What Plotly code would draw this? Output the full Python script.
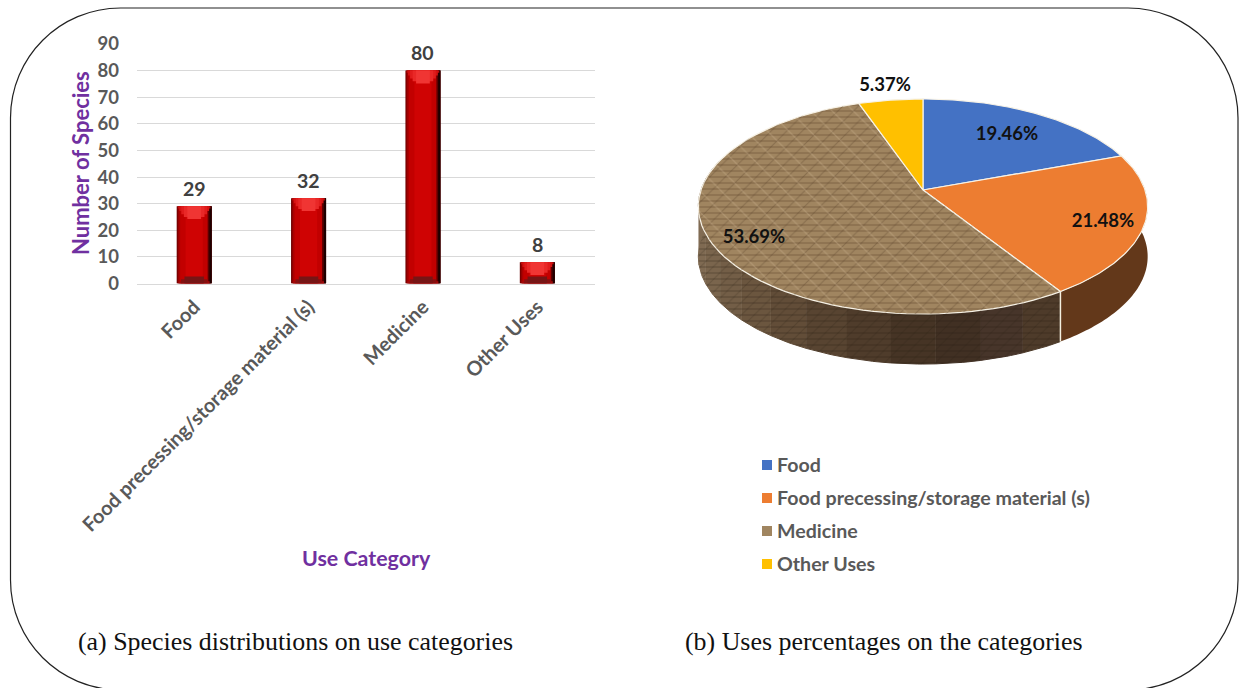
import math
import plotly.graph_objects as go

categories = ["Food", "Food precessing/storage material (s)", "Medicine", "Other Uses"]
species_counts = [29, 32, 80, 8]
use_percentages = [19.46, 21.48, 53.69, 5.37]
slice_colors = ["#4472C4", "#ED7D31", "#A08560", "#FFC000"]
side_colors = ["#4472C4", "#63381A", "#6B5640", "#FFC000"]
y_ticks = [0, 10, 20, 30, 40, 50, 60, 70, 80, 90]
pct_labels = [(1007, 135), (1103, 222), (754, 238), (885, 86)]
FONT = "Lato"
W, H = 1239, 688

fig = go.Figure()

# ---------- bars: layered for a bevelled horizontal gradient ----------
bar_layers = [(0.306, "#6a0000"), (0.292, "#8e0000"), (0.272, "#ab0000"), (0.245, "#c20000"), (0.15, "#cf0303")]
for width, colour in bar_layers:
    fig.add_trace(go.Bar(x=categories, y=species_counts, width=width, marker=dict(color=colour, line_width=0),
                         showlegend=False, hoverinfo="skip", xaxis="x", yaxis="y"))
# dark right-hand edge of each bar
for width, offset, colour in [(0.035, 0.118, "#5c0000"), (0.02, 0.133, "#1e0000")]:
    fig.add_trace(go.Bar(x=categories, y=species_counts, width=width, offset=offset,
                         marker=dict(color=colour, line_width=0), showlegend=False, hoverinfo="skip",
                         xaxis="x", yaxis="y"))
for width, colour, depth in [(0.285, "#c00c0c", 0.8), (0.26, "#d41212", 1.8), (0.225, "#e01c1c", 3.0),
                             (0.18, "#e92827", 4.0), (0.12, "#f03533", 4.8)]:
    fig.add_trace(go.Bar(x=categories, y=[depth] * 4, base=[v - depth for v in species_counts], width=width,
                         marker=dict(color=colour, line_width=0), showlegend=False, hoverinfo="skip",
                         xaxis="x", yaxis="y"))
for width, colour, depth in [(0.27, "#a00a0a", 0.8), (0.23, "#861010", 1.6), (0.17, "#761515", 2.6)]:
    fig.add_trace(go.Bar(x=categories, y=[depth] * 4, base=[0] * 4, width=width,
                         marker=dict(color=colour, line_width=0), showlegend=False, hoverinfo="skip",
                         xaxis="x", yaxis="y"))

# ---------- perspective pie in a pixel-scaled frame ----------
CX, CY, R, A, B, DEPTH = 923, 190, 222, 105, 0.1535, 50


def rim(theta, drop=0):
    u, v = math.sin(theta), math.cos(theta)
    w = 1 + B * v
    return CX + R * u / w, CY - A * v / w + drop


def arc(t0, t1, drop=0, n=80):
    pts = [rim(t0 + (t1 - t0) * i / n, drop) for i in range(n + 1)]
    return [p[0] for p in pts], [p[1] for p in pts]


edges = [0]
for p in use_percentages:
    edges.append(edges[-1] + p / sum(use_percentages) * 2 * math.pi)

# side walls
t0, t1 = edges[1], edges[2]
xa, ya = arc(t0, t1)
xb, yb = arc(t0, t1, DEPTH)
fig.add_trace(go.Scatter(x=xa + xb[::-1], y=ya + yb[::-1], fill="toself", mode="none", fillcolor=side_colors[1],
                         showlegend=False, hoverinfo="skip", xaxis="x2", yaxis="y2"))
wall_shades = ["#4e3b2a", "#47352a", "#413023", "#463425", "#4f3c2b", "#584431", "#624d38", "#6b563f",
               "#735e47", "#7a654d", "#7f6a52", "#816c54", "#816c54", "#816c54"]
t0, t1 = edges[2], edges[2] + (edges[3] - edges[2]) * 0.72
for i, shade in enumerate(wall_shades):
    s0 = t0 + (t1 - t0) * i / len(wall_shades)
    s1 = t0 + (t1 - t0) * (i + 1) / len(wall_shades)
    xa, ya = arc(s0, s1, 0, 10)
    xb, yb = arc(s0, s1, DEPTH, 10)
    fig.add_trace(go.Scatter(x=xa + xb[::-1], y=ya + yb[::-1], fill="toself", mode="lines",
                             line=dict(color=shade, width=1), fillcolor=shade,
                             showlegend=False, hoverinfo="skip", xaxis="x2", yaxis="y2"))
xa, ya = arc(t0, t1)
xb, yb = arc(t0, t1, DEPTH)
for shape, size, solidity, ink in [("-", 6, 0.22, "rgba(35,24,14,0.55)"), ("/", 9, 0.12, "rgba(35,24,14,0.4)")]:
    fig.add_trace(go.Scatter(x=xa + xb[::-1], y=ya + yb[::-1], fill="toself", mode="none",
                             fillcolor="rgba(0,0,0,0)",
                             fillpattern=dict(shape=shape, size=size, solidity=solidity, fgcolor=ink,
                                              bgcolor="rgba(0,0,0,0)"),
                             showlegend=False, hoverinfo="skip", xaxis="x2", yaxis="y2"))
bx, by = rim(edges[2])
fig.add_trace(go.Scatter(x=[bx, bx], y=[by, by + DEPTH], mode="lines", line=dict(color="#f5efdf", width=1.5),
                         showlegend=False, hoverinfo="skip", xaxis="x2", yaxis="y2"))

# top wedges
for i, cat in enumerate(categories):
    xs, ys = arc(edges[i], edges[i + 1])
    xs = [CX] + xs + [CX]
    ys = [CY] + ys + [CY]
    kw = {}
    if cat == "Medicine":
        kw["fillpattern"] = dict(shape="-", size=6, solidity=0.22, fgcolor="#6b5234", bgcolor=slice_colors[i])
    fig.add_trace(go.Scatter(x=xs, y=ys, fill="toself", mode="lines", line=dict(color="#f7f2e6", width=1.2),
                             fillcolor=slice_colors[i], name=cat, showlegend=False, hoverinfo="skip",
                             xaxis="x2", yaxis="y2", **kw))
    if cat == "Medicine":
        for shape, size, solidity, ink in [("/", 11, 0.1, "rgba(90,68,42,0.7)"),
                                           ("\\", 15, 0.08, "rgba(205,180,145,0.7)")]:
            fig.add_trace(go.Scatter(x=xs, y=ys, fill="toself", mode="none", fillcolor="rgba(0,0,0,0)",
                                     fillpattern=dict(shape=shape, size=size, solidity=solidity, fgcolor=ink,
                                                      bgcolor="rgba(0,0,0,0)"),
                                     showlegend=False, hoverinfo="skip", xaxis="x2", yaxis="y2"))
# percent labels
fig.add_trace(go.Scatter(x=[p[0] for p in pct_labels], y=[p[1] for p in pct_labels], mode="text",
                         text=[f"{v:.2f}%" for v in use_percentages],
                         textfont=dict(family=FONT, size=18.5, color="#111111", weight="bold"),
                         showlegend=False, hoverinfo="skip", xaxis="x2", yaxis="y2"))
# legend
legend_y = [465, 498, 531, 564]
fig.add_trace(go.Scatter(x=[767] * 4, y=legend_y, mode="markers", marker=dict(symbol="square", size=10, color=slice_colors),
                         showlegend=False, hoverinfo="skip", xaxis="x2", yaxis="y2"))
fig.add_trace(go.Scatter(x=[777] * 4, y=[v + 2 for v in legend_y], mode="text", text=categories,
                         textposition="middle right",
                         textfont=dict(family=FONT, size=19.6, color="#595959", weight="bold"),
                         showlegend=False, hoverinfo="skip", xaxis="x2", yaxis="y2"))

annotations = [
    dict(x=366, y=558, text="<b>Use Category</b>", font=dict(family=FONT, size=21.4, color="#7030A0")),
    dict(x=80, y=163, text="<b>Number of Species</b>", textangle=-90, font=dict(family=FONT, size=22, color="#7030A0")),
    dict(x=295, y=641, text="(a) Species distributions on use categories",
         font=dict(family="Liberation Serif", size=25.9, color="#111111")),
    dict(x=884, y=641, text="(b) Uses percentages on the categories",
         font=dict(family="Liberation Serif", size=25.9, color="#111111")),
]
for a in annotations:
    a.update(xref="x2", yref="y2", showarrow=False)
# value labels above the bars
for cat, v in zip(categories, species_counts):
    annotations.append(dict(x=cat, y=v, xref="x", yref="y", text=f"<b>{v}</b>", showarrow=False, yshift=18,
                            font=dict(family=FONT, size=19.5, color="#404040")))

# rounded frame, built from cubic corners
L, T, Rt, Bm, r = 10.5, 8, 1238, 690, 110
k = r * 0.4477
border = (f"M {L} {T + r} C {L} {T + k} {L + k} {T} {L + r} {T} L {Rt - r} {T} "
          f"C {Rt - k} {T} {Rt} {T + k} {Rt} {T + r} L {Rt} {Bm - r} "
          f"C {Rt} {Bm - k} {Rt - k} {Bm} {Rt - r} {Bm} L {L + r} {Bm} "
          f"C {L + k} {Bm} {L} {Bm - k} {L} {Bm - r} Z")

fig.update_layout(
    width=W, height=H, margin=dict(l=0, r=0, t=0, b=0), autosize=False,
    paper_bgcolor="white", plot_bgcolor="rgba(0,0,0,0)", barmode="overlay", showlegend=False,
    font=dict(family=FONT),
    xaxis=dict(domain=[137 / W, 594.5 / W], anchor="y", categoryorder="array", categoryarray=categories,
               range=[-0.5, 3.5], tickangle=-45, showgrid=False, ticks="", showline=True, linecolor="#d9d9d9",
               tickfont=dict(family=FONT, size=19.9, color="#595959", weight="bold"), zeroline=False,
               automargin=False, ticklabelstandoff=3),
    yaxis=dict(domain=[1 - 283.5 / H, 1 - 44 / H], anchor="x", range=[0, 90], tickvals=y_ticks,
               showgrid=True, gridcolor="#d9d9d9", gridwidth=1, zeroline=False, ticks="",
               tickfont=dict(family=FONT, size=18.5, color="#595959", weight="bold"), automargin=False,
               ticklabelstandoff=17),
    xaxis2=dict(domain=[0, 1], range=[0, W], anchor="y2", visible=False, fixedrange=True, automargin=False),
    yaxis2=dict(domain=[0, 1], range=[H, 0], anchor="x2", visible=False, fixedrange=True, automargin=False),
    annotations=annotations,
    shapes=[dict(type="path", path=border, xref="x2", yref="y2", line=dict(color="#222222", width=1.2), layer="below")],
)
fig.write_html("out.html", config={"displayModeBar": False},
               post_script="document.body.style.margin='0';document.body.style.overflow='hidden';")
